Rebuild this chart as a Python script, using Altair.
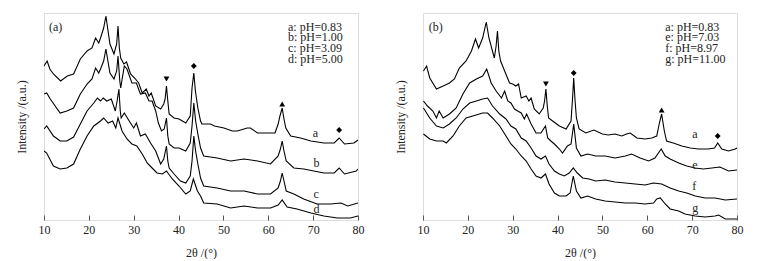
import altair as alt
import pandas as pd

FONT = "Times New Roman, Liberation Serif, Tinos, serif"

# ---------------- Panel (a) ----------------
pa_a_theta = [10.0, 10.7, 11.3, 12.1, 13.7, 15.2, 16.6, 18.1, 19.6, 20.7, 21.5, 22.2, 22.6, 23.3, 23.8,
              24.7, 25.6, 26.2, 26.5, 26.8, 27.1, 27.8, 28.4, 29.3, 30.4, 31.1, 31.9, 32.8, 33.4, 33.9,
              34.9, 36.0, 36.7, 37.0, 37.3, 37.6, 37.9, 39.0, 40.1, 41.6, 42.6, 43.0, 43.4, 43.75, 44.3,
              44.9, 45.2, 47.1, 48.0, 50.1, 52.0, 53.1, 55.3, 56.0, 57.6, 60.5, 61.5, 62.2, 62.6, 63.1,
              63.5, 63.9, 65.0, 67.2, 69.5, 72.4, 74.7, 75.8, 77.0, 79.1, 80.0]
pa_a_int = [154, 159, 151, 146, 139, 144, 146, 161, 169, 172, 182, 177, 182, 192, 204,
            176, 166, 176, 194, 172, 162, 156, 158, 146, 141, 137, 127, 131, 124, 127,
            114, 111, 116, 121, 134, 119, 106, 102, 101, 97, 104, 132, 147, 129, 112,
            99, 96, 96, 94, 92, 89, 89, 92, 92, 87, 87, 87, 96, 104, 112,
            101, 92, 84, 82, 79, 77, 77, 82, 76, 77, 80]

pa_b_theta = [10.0, 10.6, 11.4, 13.6, 15.1, 16.6, 18.1, 19.6, 20.7, 21.5, 22.2, 22.6, 23.3, 23.8, 24.7,
              25.6, 26.2, 26.5, 26.9, 27.1, 27.9, 28.5, 29.6, 30.6, 31.5, 32.6, 33.4, 34.1, 34.9, 35.5,
              36.2, 36.8, 37.3, 37.6, 37.9, 39.0, 40.1, 41.6, 42.6, 43.0, 43.4, 43.8, 44.3, 44.9, 45.6,
              48.6, 51.6, 54.6, 57.6, 60.5, 62.2, 62.7, 63.1, 63.5, 64.0, 65.7, 67.9, 72.4, 74.7, 75.8,
              77.0, 79.6, 80.0]
pa_b_int = [126, 127, 121, 107, 109, 112, 126, 136, 141, 152, 147, 151, 159, 171, 147,
            141, 149, 164, 139, 132, 154, 151, 137, 137, 126, 127, 119, 119, 109, 97,
            89, 91, 102, 84, 76, 72, 72, 69, 77, 94, 117, 99, 86, 72, 64,
            62, 59, 61, 59, 56, 64, 71, 79, 69, 59, 52, 51, 47, 47, 52,
            46, 49, 51]

pa_c_theta = [10.0, 10.6, 12.1, 13.6, 15.1, 16.6, 18.1, 19.6, 21.1, 21.9, 22.6, 23.2, 24.0, 25.0, 25.9,
              26.3, 26.7, 27.0, 27.2, 27.9, 29.0, 30.0, 30.6, 31.5, 32.6, 33.75, 34.9, 36.0, 36.7, 37.3,
              37.6, 37.9, 39.0, 40.4, 41.6, 42.6, 43.0, 43.4, 43.8, 44.3, 44.9, 45.6, 48.6, 51.6, 54.6,
              57.6, 60.5, 62.2, 62.7, 63.1, 63.5, 64.0, 65.7, 67.9, 70.9, 73.9, 76.2, 77.7, 80.0]
pa_c_int = [91, 94, 84, 79, 79, 83, 96, 109, 117, 122, 119, 122, 119, 121, 109,
            119, 131, 109, 102, 107, 99, 92, 97, 84, 86, 77, 69, 56, 61, 74,
            59, 52, 46, 39, 37, 44, 59, 84, 69, 56, 42, 34, 32, 29, 29,
            26, 26, 32, 39, 47, 39, 29, 26, 21, 16, 16, 17, 14, 17]

pa_d_theta = [10.0, 10.6, 12.1, 13.6, 15.1, 16.6, 18.1, 19.6, 21.1, 22.6, 23.3, 24.3, 25.3, 26.0, 26.5,
              27.4, 28.5, 29.6, 30.7, 31.9, 33.0, 34.1, 35.2, 36.4, 37.3, 38.6, 40.1, 41.6, 42.6, 43.3,
              44.2, 44.9, 45.6, 48.6, 51.6, 54.6, 57.6, 60.5, 62.2, 63.1, 64.2, 66.4, 69.5, 72.4, 75.4,
              78.3, 80.0]
pa_d_int = [69, 67, 54, 51, 52, 56, 71, 84, 94, 99, 102, 97, 99, 92, 102,
            89, 81, 76, 74, 66, 57, 52, 47, 46, 49, 41, 34, 26, 29, 41,
            29, 24, 17, 16, 12, 14, 12, 12, 15, 20, 13, 11, 7, 4, 2,
            2, 4]

# ---------------- Panel (b) ----------------
pb_a_theta = [10.1, 10.8, 11.5, 13.0, 14.5, 15.9, 17.0, 18.1, 19.6, 20.8, 21.7, 22.4, 23.3, 24.1, 24.7,
              25.9, 26.3, 26.6, 26.9, 27.3, 28.2, 29.3, 30.0, 30.7, 31.3, 31.9, 33.0, 33.6, 34.1, 34.8,
              35.9, 36.8, 37.1, 37.4, 37.7, 38.0, 38.9, 40.4, 41.9, 43.0, 43.3, 43.6, 43.9, 44.2, 44.8,
              46.3, 48.1, 50.0, 51.3, 52.8, 54.3, 55.4, 56.2, 57.7, 59.5, 61.0, 62.1, 62.7, 63.2, 63.8,
              64.3, 65.8, 67.7, 69.6, 71.4, 73.6, 75.0, 75.7, 76.6, 78.1, 79.6, 80.0]
pb_a_int = [149, 154, 142, 131, 134, 137, 141, 152, 159, 169, 181, 172, 182, 198, 182,
            162, 174, 189, 169, 159, 149, 137, 136, 134, 136, 122, 124, 119, 122, 111,
            106, 112, 119, 131, 114, 102, 99, 94, 91, 99, 119, 142, 119, 102, 91,
            87, 90, 86, 85, 86, 84, 86, 87, 82, 81, 82, 84, 97, 106, 89,
            79, 77, 74, 72, 71, 71, 72, 77, 71, 69, 71, 72]

pb_e_theta = [10.1, 11.0, 12.2, 13.0, 13.6, 14.5, 15.9, 17.4, 18.9, 20.4, 21.9, 23.3, 24.2, 25.2, 26.3,
              27.5, 28.2, 28.9, 29.6, 30.4, 31.1, 31.9, 32.6, 33.1, 34.1, 35.2, 36.3, 37.3, 37.8, 38.5,
              39.3, 40.4, 41.1, 42.2, 43.0, 43.6, 44.2, 45.2, 46.7, 48.5, 50.6, 52.8, 55.1, 56.5, 58.4,
              60.3, 61.7, 63.1, 64.0, 65.1, 67.0, 68.8, 70.7, 72.5, 74.4, 76.2, 78.1, 80.0]
pb_e_int = [119, 114, 109, 102, 109, 102, 106, 112, 126, 137, 141, 144, 151, 137, 129,
            122, 129, 119, 117, 111, 109, 107, 101, 106, 96, 87, 87, 94, 82, 79,
            76, 71, 67, 74, 76, 96, 72, 64, 66, 64, 64, 62, 64, 66, 62,
            59, 62, 71, 64, 61, 57, 54, 52, 51, 52, 53, 49, 50]

pb_f_theta = [10.1, 11.5, 13.0, 14.5, 15.9, 17.4, 18.9, 20.4, 21.9, 23.3, 24.4, 25.5, 27.1, 28.5, 29.6,
              30.7, 31.9, 33.0, 34.1, 35.2, 36.3, 37.3, 38.1, 39.3, 40.4, 41.5, 42.6, 43.5, 44.4, 45.6,
              47.0, 48.5, 50.6, 52.8, 55.1, 57.3, 59.5, 61.4, 63.2, 65.1, 67.0, 68.8, 70.7, 72.9, 75.1,
              77.4, 80.0]
pb_f_int = [112, 102, 94, 92, 96, 102, 111, 117, 119, 121, 122, 114, 106, 101, 94,
            91, 82, 79, 72, 64, 61, 64, 56, 49, 46, 44, 47, 52, 47, 42,
            41, 39, 40, 38, 37, 36, 35, 37, 36, 32, 29, 27, 24, 22, 22,
            20, 21]

pb_g_theta = [10.1, 11.5, 13.0, 14.5, 15.2, 16.7, 18.1, 19.6, 21.1, 23.3, 24.4, 25.5, 27.1, 28.5, 29.6,
              30.7, 31.9, 33.0, 34.1, 35.2, 36.3, 37.3, 38.1, 39.3, 40.4, 41.9, 42.8, 43.5, 44.2, 45.2,
              46.7, 48.5, 50.6, 52.8, 55.1, 57.3, 59.5, 61.4, 62.1, 62.9, 64.0, 65.1, 67.0, 68.4, 70.7,
              72.9, 75.1, 75.9, 77.4, 80.0]
pb_g_int = [86, 81, 79, 79, 77, 84, 94, 102, 104, 107, 107, 102, 94, 84, 76,
            71, 64, 59, 51, 44, 42, 46, 36, 27, 24, 24, 27, 44, 29, 22,
            24, 21, 19, 18, 17, 17, 16, 17, 21, 22, 16, 11, 9, 6, 4,
            3, 4, 5, 1, 1]

# curve labels (theta, intensity)
pa_labels = ["a", "b", "c", "d"]
pa_label_theta = [69.9, 70.1, 70.1, 70.1]
pa_label_int = [87, 57, 26, 11]
pb_labels = ["a", "e", "f", "g"]
pb_label_theta = [70.0, 70.0, 70.0, 70.0]
pb_label_int = [86, 55, 34, 12]

# phase markers
marker_shapes = ["triangle-down", "diamond", "triangle-up", "diamond"]
pa_marker_theta = [37.3, 43.4, 63.1, 75.8]
pa_marker_int = [141, 154, 116, 90]
pb_marker_theta = [37.4, 43.6, 63.2, 75.7]
pb_marker_int = [136, 147, 110, 84]

# legend texts (one block per panel)
pa_legend = ["a: pH=0.83", "b: pH=1.00", "c: pH=3.09", "d: pH=5.00"]
pb_legend = ["a: pH=0.83", "e: pH=7.03", "f: pH=8.97", "g: pH=11.00"]
legend_first_int = 189.4

W, H = 314, 207
X_DOMAIN = [10, 80]
Y_DOMAIN = [0, 207]
tick_values = list(range(10, 81, 5))


def curves_df(series):
    rows = []
    for name, th, it in series:
        for t, v in zip(th, it):
            rows.append({"theta": t, "intensity": v, "curve": name})
    return pd.DataFrame(rows)


def panel(tag, series, labels, lab_th, lab_int, mk_th, mk_int, legend, legend_theta, tag_theta):
    xsc = alt.Scale(domain=X_DOMAIN, nice=False, zero=False)
    ysc = alt.Scale(domain=Y_DOMAIN, nice=False, zero=False)
    xax = alt.Axis(values=tick_values, labelExpr="datum.value % 10 == 0 ? datum.label : ''",
                   tickSize=5, offset=-5, domain=False, grid=False, labelPadding=4,
                   labelFont=FONT, labelFontSize=12, labelColor="#222", tickColor="#555",
                   title="2θ /(°)", titleFont=FONT, titleFontSize=12, titleFontWeight="normal",
                   titleColor="#222", titlePadding=12, labelFlush=False)
    yax = alt.Axis(labels=False, ticks=False, domain=False, grid=False,
                   title="Intensity /(a.u.)", titleFont=FONT, titleFontSize=12,
                   titleFontWeight="normal", titleColor="#222", titlePadding=16)

    lines = alt.Chart(curves_df(series)).mark_line(color="black", strokeWidth=1.1, clip=True).encode(
        x=alt.X("theta:Q", scale=xsc, axis=xax),
        y=alt.Y("intensity:Q", scale=ysc, axis=yax),
        detail="curve:N",
    )
    lab_df = pd.DataFrame({"theta": lab_th, "intensity": lab_int, "label": labels})
    lab = alt.Chart(lab_df).mark_text(font=FONT, fontSize=12, color="#222", align="left",
                                      baseline="middle").encode(
        x=alt.X("theta:Q", scale=xsc), y=alt.Y("intensity:Q", scale=ysc), text="label:N")
    mk_df = pd.DataFrame({"theta": mk_th, "intensity": mk_int, "shape": marker_shapes})
    mk = alt.Chart(mk_df).mark_point(filled=True, color="black", size=34, opacity=1).encode(
        x=alt.X("theta:Q", scale=xsc), y=alt.Y("intensity:Q", scale=ysc),
        shape=alt.Shape("shape:N", scale=None, legend=None))
    leg_df = pd.DataFrame({"theta": [legend_theta], "intensity": [legend_first_int],
                           "text": ["\n".join(legend)]})
    leg = alt.Chart(leg_df).mark_text(font=FONT, fontSize=12, color="#222", align="left",
                                      baseline="alphabetic", lineBreak="\n", lineHeight=10.7).encode(
        x=alt.X("theta:Q", scale=xsc), y=alt.Y("intensity:Q", scale=ysc), text="text:N")
    tag_df = pd.DataFrame({"theta": [tag_theta], "intensity": [193], "text": [tag]})
    tg = alt.Chart(tag_df).mark_text(font=FONT, fontSize=12, color="#222", align="left",
                                     baseline="middle").encode(
        x=alt.X("theta:Q", scale=xsc), y=alt.Y("intensity:Q", scale=ysc), text="text:N")
    return alt.layer(lines, lab, mk, leg, tg).properties(width=W, height=H)


pa = panel("(a)",
           [("a", pa_a_theta, pa_a_int), ("b", pa_b_theta, pa_b_int),
            ("c", pa_c_theta, pa_c_int), ("d", pa_d_theta, pa_d_int)],
           pa_labels, pa_label_theta, pa_label_int, pa_marker_theta, pa_marker_int,
           pa_legend, 64.4, 11.1)
pb = panel("(b)",
           [("a", pb_a_theta, pb_a_int), ("e", pb_e_theta, pb_e_int),
            ("f", pb_f_theta, pb_f_int), ("g", pb_g_theta, pb_g_int)],
           pb_labels, pb_label_theta, pb_label_int, pb_marker_theta, pb_marker_int,
           pb_legend, 64.0, 11.3)

chart = alt.hconcat(pa, pb, spacing=28).properties(
    padding={"left": 14, "top": 12, "right": 0, "bottom": 0}
).configure_view(stroke="#888", strokeWidth=1).configure(background="white")

chart.save("out.html", embed_options={"renderer": "svg", "actions": False})
